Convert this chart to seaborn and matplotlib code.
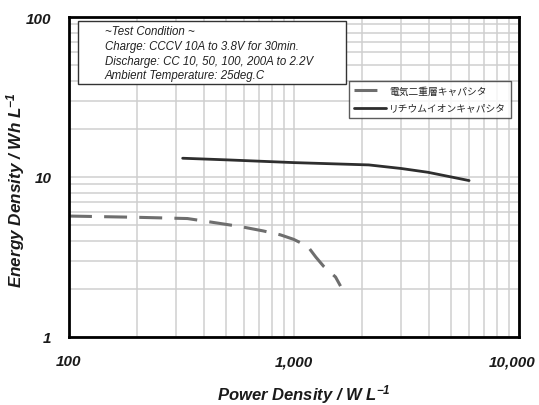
import matplotlib
matplotlib.use("Agg")
import matplotlib.pyplot as plt
import matplotlib.transforms as mtransforms
import seaborn as sns
import pandas as pd
from matplotlib.patches import Rectangle
from matplotlib.ticker import FixedLocator, FixedFormatter, LogLocator, NullFormatter

# ---- data ----
edlc_power = [100, 200, 336, 438, 578, 731, 870, 995, 1150, 1250, 1353, 1530, 1610]
edlc_energy = [5.7, 5.6, 5.5, 5.2, 4.9, 4.6, 4.35, 4.08, 3.69, 3.16, 2.77, 2.37, 2.08]
lib_power = [320, 500, 870, 1000, 2150, 3000, 3940, 6000]
lib_energy = [13.1, 12.8, 12.4, 12.3, 11.9, 11.3, 10.7, 9.5]
series_names = ["電気二重層キャパシタ", "リチウムイオンキャパシタ"]
x_ticks = [100, 1000, 10000]
x_tick_labels = ["100", "1,000", "10,000"]
y_ticks = [1, 10, 100]
y_tick_labels = ["1", "10", "100"]
condition_lines = ["~Test Condition ~",
                   "Charge: CCCV 10A to 3.8V for 30min.",
                   "Discharge: CC 10, 50, 100, 200A to 2.2V",
                   "Ambient Temperature: 25deg.C"]

sns.set_style("white")
plt.rcParams['font.family'] = ['Liberation Sans', 'Noto Sans CJK JP', 'DejaVu Sans']
plt.rcParams['mathtext.fontset'] = 'custom'
plt.rcParams['mathtext.it'] = 'Liberation Sans:italic:bold'
plt.rcParams['mathtext.rm'] = 'Liberation Sans:italic:bold'
plt.rcParams['mathtext.bf'] = 'Liberation Sans:italic:bold'

fig = plt.figure(figsize=(5.39, 4.06), dpi=100)
ax = fig.add_axes([69/539, 1-338/406, 450/539, 320/406])

df1 = pd.DataFrame({"p": edlc_power, "e": edlc_energy})
df2 = pd.DataFrame({"p": lib_power, "e": lib_energy})
sns.lineplot(data=df1, x="p", y="e", ax=ax, color="#6e6e6e", lw=2.2,
             label=series_names[0], sort=False)
sns.lineplot(data=df2, x="p", y="e", ax=ax, color="#2e2e2e", lw=2.0,
             label=series_names[1], sort=False)
ax.lines[0].set_dashes([7.5, 4])

ax.set_xscale("log")
ax.set_yscale("log")
ax.set_xlim(100, 10000)
ax.set_ylim(1, 100)

ax.xaxis.set_major_locator(FixedLocator(x_ticks))
ax.xaxis.set_major_formatter(FixedFormatter(x_tick_labels))
ax.yaxis.set_major_locator(FixedLocator(y_ticks))
ax.yaxis.set_major_formatter(FixedFormatter(y_tick_labels))
for a in (ax.xaxis, ax.yaxis):
    a.set_minor_locator(LogLocator(base=10, subs=range(2, 10)))
    a.set_minor_formatter(NullFormatter())

ax.grid(True, which="both", color="#cfcfcf", lw=1.1)
ax.set_axisbelow(True)
ax.tick_params(which="major", direction="in", length=4, width=1.5, color="black",
               labelsize=11)
ax.tick_params(axis="x", which="major", pad=12.5)
ax.tick_params(axis="y", which="major", pad=12.5)
ax.tick_params(which="minor", length=0)
for lab in ax.get_xticklabels() + ax.get_yticklabels():
    lab.set_fontstyle("italic")
    lab.set_fontweight("bold")
    lab.set_color("#1a1a1a")
for s in ax.spines.values():
    s.set_color("black")
    s.set_linewidth(2.0)

# nudge the last x tick label so it stays inside the figure
fig.canvas.draw()
last = ax.xaxis.get_major_ticks()[-1].label1
last.set_transform(last.get_transform() +
                   mtransforms.ScaledTranslation(-5/72, 0, fig.dpi_scale_trans))

ax.set_xlabel(r"Power Density / W L$^{-1}$", fontsize=12, fontweight="bold",
              fontstyle="italic", color="#1a1a1a")
ax.set_ylabel(r"Energy Density / Wh L$^{-1}$", fontsize=12.3, fontweight="bold",
              fontstyle="italic", color="#1a1a1a")
ax.xaxis.set_label_coords(0.521, -0.14)
ax.yaxis.set_label_coords(-0.094, 0.4625)

# condition box
ax.add_patch(Rectangle((0.02, 0.791), 0.595, 0.197, transform=ax.transAxes,
                       facecolor="white", edgecolor="#333333", lw=1.0, zorder=5))
ys = [0.956, 0.909, 0.861, 0.818]
for t, yy in zip(condition_lines, ys):
    ax.text(0.08, yy, t, transform=ax.transAxes, fontsize=8.3, fontstyle="italic",
            va="center", ha="left", color="#222222", zorder=6)

leg = ax.legend(loc="upper right", bbox_to_anchor=(0.982, 0.80), fontsize=7,
                frameon=True, fancybox=False, handlelength=3.3, borderpad=0.5,
                labelspacing=0.75, handletextpad=0.3, borderaxespad=0)
leg.get_frame().set_edgecolor("#333333")
leg.get_frame().set_linewidth(1.0)
for t in leg.get_texts():
    t.set_fontfamily(['Noto Sans CJK JP', 'DejaVu Sans'])

fig.savefig("out.png", dpi=100)
